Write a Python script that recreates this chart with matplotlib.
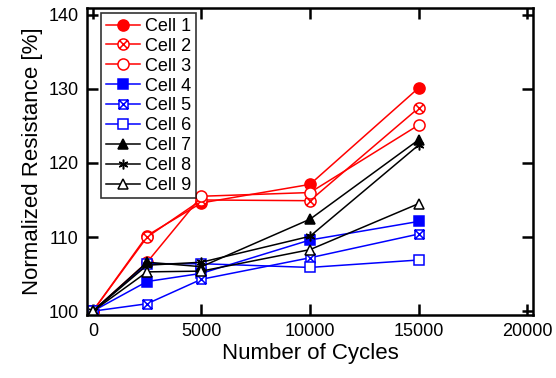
import matplotlib
matplotlib.use("Agg")
import matplotlib.pyplot as plt
from matplotlib.path import Path

plt.rcParams['font.family'] = ['Liberation Sans', 'DejaVu Sans']

# data
cycles = [0, 2500, 5000, 10000, 15000]
cell1 = [100, 110.2, 114.6, 117.1, 130.1]
cell2 = [100, 110.0, 115.0, 114.9, 127.4]
cell3 = [100, 106.6, 115.5, 116.0, 125.1]
cell4 = [100, 104.0, 105.1, 109.6, 112.1]
cell5 = [100, 101.0, 104.3, 107.2, 110.4]
cell6 = [100, 106.4, 106.4, 105.9, 106.9]
cell7 = [100, 106.6, 106.0, 112.4, 123.1]
cell8 = [100, 106.2, 106.6, 110.1, 122.4]
cell9 = [100, 105.3, 105.4, 108.3, 114.5]
labels = ['Cell 1', 'Cell 2', 'Cell 3', 'Cell 4', 'Cell 5',
          'Cell 6', 'Cell 7', 'Cell 8', 'Cell 9']
xticks = [0, 5000, 10000, 15000, 20000]
yticks = [100, 110, 120, 130, 140]

# circle with an x inside, square with an x inside
c = 0.7071
cross = Path([(-c, -c), (c, c), (-c, c), (c, -c)],
             [Path.MOVETO, Path.LINETO, Path.MOVETO, Path.LINETO])
circ_x = Path.make_compound_path(Path.unit_circle(), cross)
sq = Path([(-1, -1), (1, -1), (1, 1), (-1, 1), (-1, -1)],
          [Path.MOVETO, Path.LINETO, Path.LINETO, Path.LINETO, Path.CLOSEPOLY])
cross2 = Path([(-1, -1), (1, 1), (-1, 1), (1, -1)],
              [Path.MOVETO, Path.LINETO, Path.MOVETO, Path.LINETO])
sq_x = Path.make_compound_path(sq, cross2)

series = [cell1, cell2, cell3, cell4, cell5, cell6, cell7, cell8, cell9]
colors = ['#ff0000'] * 3 + ['#0000ff'] * 3 + ['black'] * 3
markers = ['o', circ_x, 'o', 's', sq_x, 's', '^', (6, 2, 0), '^']
filled = [True, False, False, True, False, False, True, True, False]
sizes = [8, 8, 8, 6.5, 6.5, 6.5, 7, 7, 7]

fig = plt.figure(figsize=(5.56, 3.78), dpi=100)
ax = fig.add_axes([0.156, 0.167, 0.803, 0.812])

for y, col, m, f, s, lab in zip(series, colors, markers, filled, sizes, labels):
    ax.plot(cycles, y, color=col, marker=m, markersize=s, linewidth=1.1,
            markerfacecolor=col if f else 'white', markeredgecolor=col,
            markeredgewidth=1.1, label=lab)

ax.set_xlim(-280, 20280)
ax.set_ylim(99.5, 140.9)
ax.set_xticks(xticks)
ax.set_yticks(yticks)
ax.tick_params(direction='in', length=8, width=1.8, labelsize=13,
               top=True, right=True, pad=6)
for sp in ax.spines.values():
    sp.set_linewidth(1.8)

ax.set_xlabel('Number of Cycles', fontsize=16, labelpad=2)
ax.set_ylabel('Normalized Resistance [%]', fontsize=16, labelpad=4)

leg = ax.legend(loc='upper left', fontsize=13, frameon=True, fancybox=False,
                edgecolor='black', handlelength=1.9, handletextpad=0.3,
                labelspacing=0.16, borderpad=0.25, borderaxespad=0.3,
                bbox_to_anchor=(0.02, 1.0))
leg.get_frame().set_linewidth(1.2)

fig.savefig('out.png', dpi=100)
